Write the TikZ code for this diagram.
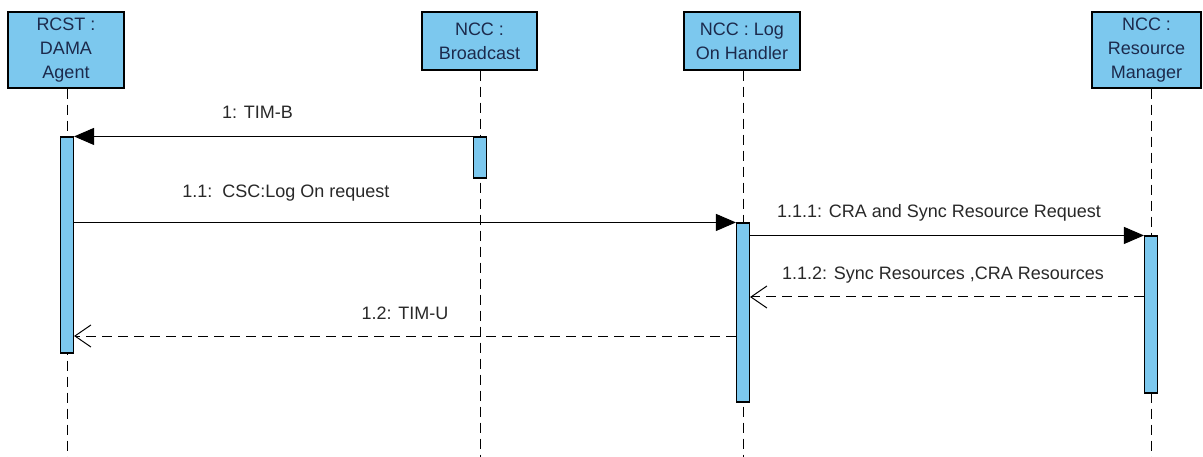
\documentclass[tikz,border=0pt]{standalone}
\usepackage{fontspec}
\setmainfont{Liberation Sans}
\usetikzlibrary{arrows.meta}
\definecolor{headblue}{RGB}{124,200,238}
\definecolor{headtext}{RGB}{28,42,76}
\definecolor{msgtext}{RGB}{40,40,40}

\begin{document}
\begin{tikzpicture}[x=1pt,y=-1pt,
		head/.style={draw,line width=1.3pt,fill=headblue,text=headtext,align=center,inner sep=0pt,minimum width=116pt,font=\fontsize{18}{24}\selectfont},
		bar/.style={draw,line width=1.1pt,fill=headblue,minimum width=13pt,inner sep=0pt},
		life/.style={line width=1pt,dash pattern=on 10pt off 6pt},
		call/.style={line width=1pt,-{Triangle[length=20pt,width=17pt]}},
		reply/.style={line width=1pt,dash pattern=on 10pt off 6pt,-{Straight Barb[length=16pt,width=22pt]}},
		msg/.style={text=msgtext,font=\fontsize{18}{22}\selectfont,inner sep=0pt,text height=13pt,text depth=4pt}]
		\useasboundingbox (0,0) rectangle (1203,457);
		\node[head,minimum height=76pt] (rcst) at (66,50) {RCST :\\DAMA\\Agent};
		\node[head,minimum height=58pt,minimum width=115pt] (bcast) at (479.5,41) {NCC :\\Broadcast};
		\node[head,minimum height=58pt] (logon) at (742,41) {NCC : Log\\On Handler};
		\node[head,minimum height=76pt,minimum width=109pt] (resmgr) at (1146.5,50) {NCC :\\Resource\\Manager};
		\coordinate (rend) at (67,457);
		\coordinate (bend) at (480,457);
		\coordinate (lend) at (743,457);
		\coordinate (mend) at (1151,457);
		\draw[life] (rcst.south -| rend) -- (rend);
		\draw[life] (bcast.south -| bend) -- (bend);
		\draw[life] (logon.south -| lend) -- (lend);
		\draw[life] (resmgr.south -| mend) -- (mend);
		\node[bar,minimum height=216pt] (rbar) at (67,245) {};
		\node[bar,minimum height=41pt] (bbar) at (480,157.5) {};
		\node[bar,minimum height=179pt] (lbar) at (743,312.5) {};
		\node[bar,minimum height=157pt] (mbar) at (1151,314.5) {};
		\draw[call] (bbar.north west) -- node[msg,pos=0.54,yshift=22pt] {1: TIM-B} (rbar.north east);
		\draw[call] (rbar.east |- lbar.north) -- node[msg,pos=0.32,yshift=29pt] {1.1:\ \ CSC:Log On request} (lbar.north west);
		\draw[call] (lbar.east |- mbar.north) -- node[msg,pos=0.48,yshift=22pt] {1.1.1: CRA and Sync Resource Request} (mbar.north west);
		\draw[reply] (mbar.west |- 0,297) -- node[msg,pos=0.51,yshift=22pt] {1.1.2: Sync Resources ,CRA Resources} (lbar.east |- 0,297);
		\draw[reply] (lbar.west |- 0,336) -- node[msg,pos=0.5,yshift=21pt] {1.2: TIM-U} (rbar.east |- 0,336);
	\end{tikzpicture}
\end{document}
